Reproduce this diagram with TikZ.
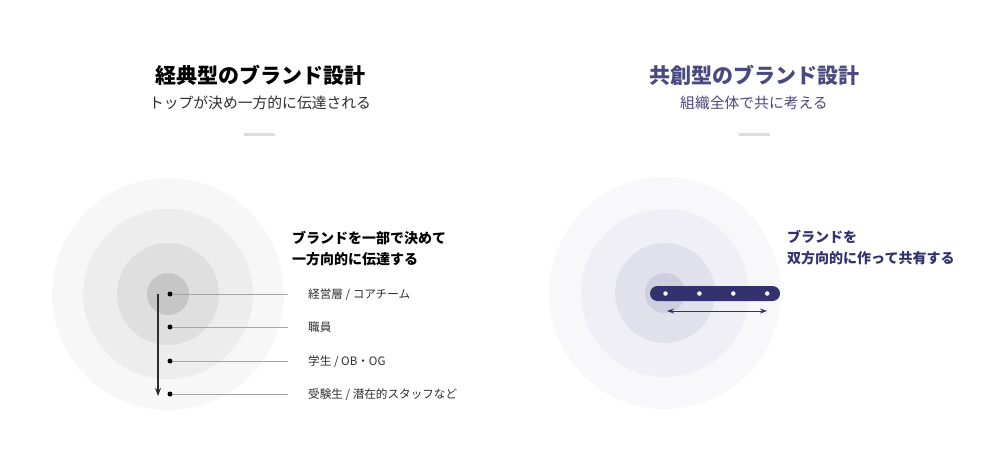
\documentclass[tikz,border=0pt]{standalone}
\usepackage{fontspec}
\setmainfont{Noto Sans CJK JP}
\usetikzlibrary{arrows.meta}

\definecolor{inkgray}{HTML}{2E2E2E}
\definecolor{navy}{HTML}{34326E}
\definecolor{cocolor}{HTML}{4A4980}
\definecolor{rulegray}{HTML}{DCDCDC}

\tikzset{
  maintitle/.style={font=\fontsize{21}{25}\selectfont\bfseries},
  subtitle/.style={font=\fontsize{14.8}{18}\selectfont},
  headline/.style={font=\fontsize{14}{21}\selectfont\bfseries, align=left, anchor=west, inner sep=0pt},
  layerlabel/.style={font=\fontsize{11.6}{13}\selectfont, text=inkgray, anchor=west, inner sep=0pt},
  dot/.style={circle, fill=#1, inner sep=0pt, minimum size=5pt},
  sepbar/.style={fill=rulegray, inner sep=0pt, minimum width=31pt, minimum height=3pt}
}

\begin{document}
\begin{tikzpicture}[x=1pt, y=-1pt]

  \fill[white] (0,0) rectangle (1000,474);
  \useasboundingbox (0,0) rectangle (1000,474);

  % titles
  \node[maintitle, text=black] (lefttitle) at (260,75) {経典型のブランド設計};
  \node[subtitle, text=inkgray] (leftsub) at (260,103) {トップが決め一方的に伝達される};
  \node[sepbar] (leftbar) at (259.5,134) {};

  \node[maintitle, text=cocolor] (righttitle) at (754,75) {共創型のブランド設計};
  \node[subtitle, text=cocolor] (rightsub) at (754,103) {組織全体で共に考える};
  \node[sepbar] (rightbar) at (754,134) {};

  % rings, outermost first
  \foreach \r/\c in {116/F7F7F7, 85/EDEDED, 51/DFDFDF, 21/C6C6C6}{
    \definecolor{ringfill}{HTML}{\c}
    \fill[ringfill] (168,294) circle (\r);
  }
  \foreach \r/\c in {116/F8F8FB, 84/EFEFF5, 50/E1E1EC, 20/CECEDF}{
    \definecolor{ringfill}{HTML}{\c}
    \fill[ringfill] (665,293) circle (\r);
  }

  % classic: one way down
  \node[headline, text=black] (lefthead) at (292,248.5) {ブランドを一部で決めて\\一方向的に伝達する};

  \foreach \y/\name/\txt in {294/core/{経営層 / コアチーム}, 327/staff/{職員}, 361/alumni/{学生 / OB・OG}, 394/outer/{受験生 / 潜在的スタッフなど}}{
    \node[dot=black] (\name) at (170,\y) {};
    \coordinate (\name end) at (288,\y);
    \node[layerlabel] (\name label) at (308,\y+0.5) {\txt};
    \draw[line width=0.6pt, draw=gray!70] (\name) -- (\name end);
  }

  \coordinate (flowtop) at (158,294);
  \coordinate (flowbottom) at (158,396);
  \draw[line width=1.2pt, draw=inkgray, -{Stealth[length=8pt, width=6pt]}] (flowtop) -- (flowbottom);

  % co-creation: shared bar
  \node[headline, text=navy] (righthead) at (787,247.5) {ブランドを\\双方向的に作って共有する};

  \node[fill=navy, rounded corners=7.5pt, inner sep=0pt, minimum width=130pt, minimum height=15pt] (sharebar) at (715,293.5) {};
  \foreach \i in {0,...,3}{
    \node[dot=white, minimum size=4.5pt] (member\i) at (665.5+33.9*\i,293.5) {};
  }

  \coordinate (twoleft) at (667,311);
  \coordinate (tworight) at (767,311);
  \draw[line width=0.9pt, draw=navy, {Stealth[length=7pt, width=5pt]}-{Stealth[length=7pt, width=5pt]}] (twoleft) -- (tworight);

\end{tikzpicture}
\end{document}
